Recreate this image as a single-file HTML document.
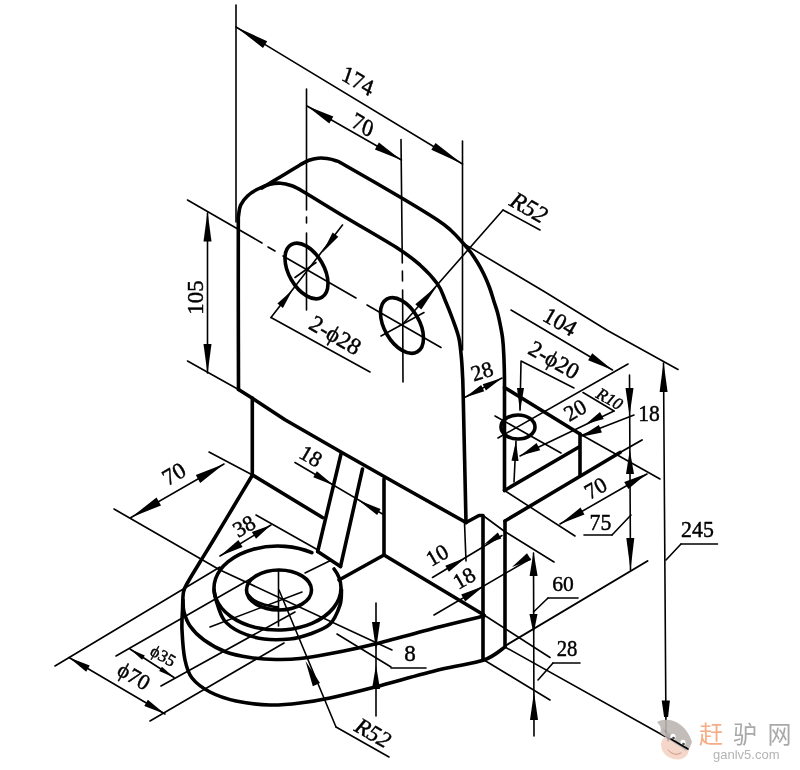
<!DOCTYPE html>
<html><head><meta charset="utf-8"><title>drawing</title>
<style>
html,body{margin:0;padding:0;background:#fff;}
body{width:800px;height:770px;overflow:hidden;}
svg{display:block;will-change:transform;transform:translateZ(0)}
svg text{font-family:"Liberation Serif","Noto Serif CJK SC",serif;fill:#000;stroke:#000;stroke-width:0.45px}
</style></head><body>
<svg width="800" height="770" viewBox="0 0 800 770" stroke="#000" stroke-linecap="round" stroke-linejoin="round">
<rect x="0" y="0" width="800" height="770" fill="#fff" stroke="none"/>
<path d="M238.5,389.5 C238.5,374.6 238.3,327.4 238.3,300 C238.3,272.6 238.2,239.1 238.3,225 C238.4,210.9 238.2,218.8 238.6,215.5 C239.0,212.2 239.2,208.2 240.7,205 C242.2,201.8 244.6,198.7 247.5,196 C250.4,193.3 254.2,190.9 258,189 C261.8,187.1 266.2,185.3 270,184.3 C273.8,183.3 277.0,183.0 280.5,183.2 C284.0,183.4 287.2,184.1 291,185.5 C294.8,186.9 294.0,186.2 303,191.5 C312.0,196.8 329.2,207.5 345,217 C360.8,226.5 385.5,240.5 398,248.5 C410.5,256.5 413.4,259.1 420,265 C426.6,270.9 433.3,278.2 437.5,284 C441.7,289.8 442.5,294.2 445,300 C447.5,305.8 450.2,312.5 452.5,318.75 C454.8,325.0 457.3,331.3 458.75,337.5 C460.2,343.7 460.6,349.8 461.25,356 C461.9,362.2 462.2,368.3 462.5,375 C462.8,381.7 462.6,371.4 463.2,396 C463.8,420.6 465.5,501.4 466,522.5" stroke-width="3.6" fill="none" />
<path d="M262,188 C264.2,186.7 270.7,182.7 275,180.1 C279.3,177.5 283.8,174.7 288,172.2 C292.2,169.7 296.5,167.0 300,165 C303.5,163.0 306.0,161.4 309,160.3 C312.0,159.2 315.0,158.5 318,158.2 C321.0,157.9 324.0,158.1 327,158.5 C330.0,158.9 333.0,159.6 336,160.7 C339.0,161.8 334.3,159.1 345,165.2 C355.7,171.2 384.6,187.9 400,197 C415.4,206.1 429.0,214.4 437.5,220 C446.0,225.6 446.8,226.8 451,230.5 C455.2,234.2 459.2,238.9 462.5,242.5 C465.8,246.1 468.0,248.7 470.5,252 C473.0,255.3 475.2,258.8 477.5,262.5 C479.8,266.2 482.0,270.3 484,274.5 C486.0,278.7 487.9,283.2 489.5,287.5 C491.1,291.8 492.2,295.8 493.5,300 C494.8,304.2 496.4,308.3 497.5,312.5 C498.6,316.7 499.5,320.8 500.3,325 C501.1,329.2 501.9,332.5 502.5,337.5 C503.1,342.5 503.5,347.9 503.8,355 C504.1,362.1 504.4,367.5 504.5,380 C504.6,392.5 504.5,411.6 504.5,430 C504.5,448.4 504.5,480.4 504.5,490.5" stroke-width="3.6" fill="none" />
<path d="M238.5,389.5 L252,398 L285,419.7 L341,452 L400,485.5 L466,522.5" stroke-width="3.6" fill="none" />
<path d="M466,522.5 L479,515.5 L483,515.5 L483,660" stroke-width="3.6" fill="none" />
<line x1="252.3" y1="398" x2="252.3" y2="475" stroke-width="3.6" />
<ellipse cx="306.5" cy="271" rx="30.5" ry="17.5" transform="rotate(60 306.5 271)" stroke-width="3.6" fill="none"/>
<ellipse cx="402" cy="325.5" rx="30.5" ry="17.5" transform="rotate(60 402 325.5)" stroke-width="3.6" fill="none"/>
<line x1="306.5" y1="89" x2="306.5" y2="210" stroke-width="1.6" />
<line x1="306.5" y1="217" x2="306.5" y2="223" stroke-width="1.6" />
<line x1="306.5" y1="233" x2="306.5" y2="310" stroke-width="1.6" />
<line x1="401" y1="139.5" x2="402.3" y2="263" stroke-width="1.6" />
<line x1="402.4" y1="271" x2="402.5" y2="281" stroke-width="1.6" />
<line x1="402.6" y1="290" x2="403" y2="382" stroke-width="1.6" />
<line x1="187.5" y1="200" x2="262" y2="243" stroke-width="1.6" />
<line x1="268" y1="247" x2="275" y2="251" stroke-width="1.6" />
<line x1="283" y1="256" x2="356" y2="298" stroke-width="1.6" />
<line x1="367" y1="305" x2="441" y2="347.5" stroke-width="1.6" />
<line x1="295" y1="277.5" x2="316" y2="262.5" stroke-width="1.6" />
<line x1="381" y1="336" x2="424" y2="312.5" stroke-width="1.6" />
<line x1="187.5" y1="361" x2="238.5" y2="389.5" stroke-width="1.6" />
<line x1="207.5" y1="213" x2="207.5" y2="373" stroke-width="1.6" />
<polygon points="207.5,211.5 211.5,241.5 203.5,241.5" fill="#000" stroke="none"/>
<polygon points="207.5,374.0 203.5,344.0 211.5,344.0" fill="#000" stroke="none"/>
<text transform="translate(195,297.5) rotate(-90)" font-size="23" text-anchor="middle" dominant-baseline="central" >105</text>
<line x1="236" y1="5" x2="236" y2="222" stroke-width="1.6" />
<line x1="462.5" y1="141" x2="462.5" y2="350" stroke-width="1.6" />
<line x1="236" y1="27" x2="462.5" y2="164" stroke-width="1.6" />
<polygon points="236.0,27.0 267.2,41.2 263.0,48.0" fill="#000" stroke="none"/>
<polygon points="462.5,164.0 431.3,149.8 435.5,143.0" fill="#000" stroke="none"/>
<text transform="translate(358,80.5) rotate(31) skewX(12)" font-size="23" text-anchor="middle" dominant-baseline="central" >174</text>
<line x1="307" y1="106" x2="401.5" y2="160" stroke-width="1.6" />
<polygon points="307.0,106.0 333.3,116.4 329.3,123.4" fill="#000" stroke="none"/>
<polygon points="401.2,160.0 374.9,149.5 378.9,142.6" fill="#000" stroke="none"/>
<text transform="translate(363,124.5) rotate(31) skewX(12)" font-size="23" text-anchor="middle" dominant-baseline="central" >70</text>
<line x1="503" y1="210" x2="402" y2="325" stroke-width="1.6" />
<line x1="503" y1="210" x2="540" y2="230" stroke-width="1.6" />
<polygon points="437.0,286.0 421.3,309.5 415.3,304.2" fill="#000" stroke="none"/>
<text transform="translate(529,207.5) rotate(30)" font-size="24" text-anchor="middle" dominant-baseline="central" font-style="italic">R52</text>
<path d="M462.5,243 L545,292 L607.5,330.5 L678,369.5" stroke-width="1.6" fill="none" />
<line x1="271" y1="317.5" x2="342.5" y2="225" stroke-width="1.6" />
<polygon points="322.5,252.5 332.6,232.6 338.3,236.8" fill="#000" stroke="none"/>
<polygon points="292.5,290.0 282.9,307.9 277.4,303.6" fill="#000" stroke="none"/>
<line x1="271" y1="317.5" x2="370" y2="372" stroke-width="1.6" />
<text transform="translate(335.5,335) rotate(30)" font-size="23.5" text-anchor="middle" dominant-baseline="central" >2-ϕ28</text>
<line x1="464.5" y1="397.5" x2="502" y2="378" stroke-width="1.6" />
<polygon points="465.0,397.5 481.1,385.1 484.3,391.3" fill="#000" stroke="none"/>
<polygon points="502.0,378.0 485.9,390.4 482.7,384.2" fill="#000" stroke="none"/>
<text transform="translate(482,371) rotate(-18)" font-size="22" text-anchor="middle" dominant-baseline="central" >28</text>
<line x1="504.5" y1="387.5" x2="580" y2="434" stroke-width="3.6" />
<line x1="580" y1="434" x2="580" y2="475" stroke-width="3.6" />
<line x1="504.5" y1="490.5" x2="579" y2="447" stroke-width="3.6" />
<line x1="505" y1="521" x2="620" y2="452.5" stroke-width="3.6" />
<line x1="620" y1="452.5" x2="642" y2="440" stroke-width="2.0" />
<line x1="505" y1="521" x2="505" y2="646" stroke-width="3.6" />
<line x1="580" y1="434" x2="660" y2="479" stroke-width="1.6" />
<line x1="504.5" y1="490.5" x2="575" y2="536" stroke-width="1.6" />
<ellipse cx="518" cy="427" rx="17" ry="12" transform="rotate(0 518 427)" stroke-width="3.6" fill="none"/>
<line x1="498" y1="438" x2="628" y2="364" stroke-width="1.6" />
<line x1="495" y1="416" x2="561" y2="453" stroke-width="1.6" />
<line x1="521" y1="362" x2="520" y2="410" stroke-width="1.6" />
<polygon points="520.0,412.0 517.0,387.9 524.0,388.1" fill="#000" stroke="none"/>
<line x1="516" y1="441" x2="514" y2="482" stroke-width="1.6" />
<polygon points="516.0,441.0 518.5,461.1 511.5,460.8" fill="#000" stroke="none"/>
<line x1="521" y1="361" x2="574" y2="388" stroke-width="1.6" />
<text transform="translate(554,360) rotate(30)" font-size="23" text-anchor="middle" dominant-baseline="central" >2-ϕ20</text>
<line x1="511" y1="310" x2="612.5" y2="370" stroke-width="1.6" />
<polygon points="612.5,370.0 588.1,360.2 592.2,353.3" fill="#000" stroke="none"/>
<text transform="translate(560,322) rotate(30)" font-size="23" text-anchor="middle" dominant-baseline="central" >104</text>
<line x1="520" y1="456" x2="614" y2="411" stroke-width="1.6" />
<polygon points="520.5,455.5 536.6,443.0 540.2,450.2" fill="#000" stroke="none"/>
<polygon points="586.0,424.0 600.0,411.9 603.7,419.0" fill="#000" stroke="none"/>
<line x1="583" y1="392.5" x2="614" y2="411" stroke-width="1.6" />
<text transform="translate(575,410) rotate(-30)" font-size="22" text-anchor="middle" dominant-baseline="central" >20</text>
<text transform="translate(609.5,399) rotate(30)" font-size="17" text-anchor="middle" dominant-baseline="central" font-style="italic">R10</text>
<line x1="580" y1="436" x2="634" y2="415" stroke-width="1.6" />
<polygon points="580.0,437.0 598.9,425.0 601.9,432.4" fill="#000" stroke="none"/>
<line x1="629.5" y1="375" x2="630.5" y2="570" stroke-width="1.6" />
<polygon points="629.5,416.0 625.5,388.0 633.5,388.0" fill="#000" stroke="none"/>
<polygon points="629.8,450.0 634.0,474.0 626.0,474.0" fill="#000" stroke="none"/>
<text transform="translate(649,413) rotate(0) scale(0.9,1)" font-size="24" text-anchor="middle" dominant-baseline="central" >18</text>
<line x1="560" y1="524" x2="647" y2="474" stroke-width="1.6" />
<polygon points="560.0,524.0 580.5,507.6 584.5,514.5" fill="#000" stroke="none"/>
<polygon points="647.0,473.5 628.3,489.0 624.2,482.1" fill="#000" stroke="none"/>
<text transform="translate(595.5,488) rotate(-30)" font-size="22" text-anchor="middle" dominant-baseline="central" >70</text>
<polygon points="630.5,570.0 626.3,538.0 634.3,538.0" fill="#000" stroke="none"/>
<line x1="584" y1="535" x2="612" y2="535" stroke-width="1.6" />
<line x1="612" y1="535" x2="631" y2="515" stroke-width="1.6" />
<text transform="translate(600.5,522.5) rotate(0) scale(0.95,1)" font-size="23" text-anchor="middle" dominant-baseline="central" >75</text>
<line x1="505" y1="646" x2="647.5" y2="561" stroke-width="2.0" />
<line x1="663.5" y1="363" x2="666" y2="732" stroke-width="1.6" />
<polygon points="663.5,362.0 667.6,392.0 659.6,392.0" fill="#000" stroke="none"/>
<polygon points="661.7,700.5 669.9,700.5 668.1,717 664.1,717" fill="#000" stroke="none"/>
<line x1="681" y1="544" x2="717.5" y2="544" stroke-width="1.6" />
<line x1="681" y1="544" x2="666" y2="560" stroke-width="1.6" />
<text transform="translate(697.5,529) rotate(0) scale(0.95,1)" font-size="23" text-anchor="middle" dominant-baseline="central" >245</text>
<line x1="533.5" y1="553" x2="534" y2="736" stroke-width="1.6" />
<polygon points="533.5,552.0 537.6,576.0 529.6,576.0" fill="#000" stroke="none"/>
<polygon points="533.5,634.0 529.5,614.0 537.5,614.0" fill="#000" stroke="none"/>
<polygon points="534.0,692.0 538.0,720.0 530.0,720.0" fill="#000" stroke="none"/>
<line x1="548" y1="598" x2="578" y2="598" stroke-width="1.6" />
<line x1="548" y1="598" x2="533.5" y2="612" stroke-width="1.6" />
<text transform="translate(563,584) rotate(0) scale(0.98,1)" font-size="22" text-anchor="middle" dominant-baseline="central" >60</text>
<line x1="483" y1="515.5" x2="504" y2="531" stroke-width="1.6" />
<line x1="504" y1="531" x2="554" y2="562" stroke-width="1.6" />
<text transform="translate(567,649) rotate(0) scale(0.9,1)" font-size="23" text-anchor="middle" dominant-baseline="central" >28</text>
<line x1="553" y1="663" x2="580" y2="663" stroke-width="1.6" />
<line x1="553" y1="663" x2="538" y2="680" stroke-width="1.6" />
<line x1="484" y1="615" x2="550" y2="657.5" stroke-width="1.6" />
<line x1="484" y1="660" x2="550" y2="700" stroke-width="1.6" />
<line x1="505" y1="647" x2="687.5" y2="749" stroke-width="1.6" />
<line x1="464.5" y1="522.5" x2="466" y2="561" stroke-width="1.6" />
<line x1="432.5" y1="577.5" x2="502" y2="535.5" stroke-width="1.6" />
<polygon points="466.0,557.5 448.9,571.8 445.3,565.8" fill="#000" stroke="none"/>
<polygon points="484.0,544.5 497.8,532.4 501.3,538.5" fill="#000" stroke="none"/>
<text transform="translate(437,555) rotate(-30)" font-size="22" text-anchor="middle" dominant-baseline="central" >10</text>
<line x1="434" y1="615" x2="530" y2="559" stroke-width="1.6" />
<polygon points="484.0,586.0 465.2,601.5 461.2,594.6" fill="#000" stroke="none"/>
<polygon points="512.0,567.0 527.0,553.2 531.2,560.0" fill="#000" stroke="none"/>
<text transform="translate(464,578) rotate(-30)" font-size="22" text-anchor="middle" dominant-baseline="central" >18</text>
<line x1="341" y1="454" x2="317.7" y2="551.5" stroke-width="3.6" />
<line x1="317.7" y1="551.5" x2="340.5" y2="566.5" stroke-width="3.6" />
<line x1="305" y1="573" x2="330.5" y2="560.5" stroke-width="1.6" />
<line x1="362.5" y1="469" x2="340.5" y2="566.5" stroke-width="3.6" />
<line x1="384" y1="479" x2="384" y2="555" stroke-width="3.6" />
<line x1="384" y1="555" x2="339" y2="580" stroke-width="3.6" />
<line x1="384" y1="555" x2="484" y2="615" stroke-width="3.6" />
<line x1="252.5" y1="475" x2="322.5" y2="517.5" stroke-width="3.6" />
<text transform="translate(311,456) rotate(30)" font-size="22" text-anchor="middle" dominant-baseline="central" >18</text>
<line x1="295" y1="462.5" x2="382.5" y2="514" stroke-width="1.6" />
<polygon points="334.0,485.5 313.3,477.3 316.8,471.3" fill="#000" stroke="none"/>
<polygon points="358.0,500.0 380.6,508.9 377.1,514.9" fill="#000" stroke="none"/>
<path d="M252.5,475 C249.2,480.4 239.5,496.7 233,507.5 C226.5,518.3 219.0,530.9 213.5,540 C208.0,549.1 204.2,555.0 200,562 C195.8,569.0 190.8,577.0 188,582 C185.2,587.0 184.4,587.3 183.5,592 C182.6,596.7 182.8,603.7 182.5,610 C182.2,616.3 181.6,621.7 182,630 C182.4,638.3 183.3,652.0 185,660 C186.7,668.0 187.8,672.7 192,678 C196.2,683.3 202.7,688.2 210,692 C217.3,695.8 226.0,698.8 236,701 C246.0,703.2 259.3,704.7 270,705 C280.7,705.3 290.0,704.2 300,703 C310.0,701.8 317.5,700.7 330,698 C342.5,695.3 356.7,691.8 375,687 C393.3,682.2 421.8,674.0 440,669.5 C458.2,665.0 473.2,663.8 484,660 C494.8,656.2 501.5,649.2 505,647" stroke-width="3.6" fill="none" />
<path d="M183,600 C183.2,602.0 182.8,607.7 184,612 C185.2,616.3 186.7,621.3 190,626 C193.3,630.7 198.0,635.7 204,640 C210.0,644.3 218.3,649.1 226,652 C233.7,654.9 241.7,656.2 250,657.5 C258.3,658.8 267.7,659.3 276,659.5 C284.3,659.7 289.3,659.8 300,658.5 C310.7,657.2 327.5,654.2 340,651.75 C352.5,649.3 358.3,648.2 375,644 C391.7,639.8 421.8,631.4 440,626.75 C458.2,622.1 476.7,617.8 484,616" stroke-width="3.6" fill="none" />
<path d="M334.1,569.0 A63.5,42 0 1 1 311.8,552.7" stroke-width="3.6" fill="none" />
<path d="M214,590 C214.3,591.7 214.3,595.0 216,600 C217.7,605.0 220.0,614.7 224,620 C228.0,625.3 233.3,628.8 240,632 C246.7,635.2 255.7,637.8 264,639 C272.3,640.2 282.3,639.8 290,639 C297.7,638.2 303.3,636.5 310,634 C316.7,631.5 325.0,628.8 330,624 C335.0,619.2 338.1,610.7 340,605 C341.9,599.3 341.2,592.5 341.5,590" stroke-width="3.6" fill="none" />
<ellipse cx="279" cy="590" rx="32.5" ry="20" transform="rotate(0 279 590)" stroke-width="3.6" fill="none"/>
<path d="M248,594 C249.0,595.0 251.3,598.2 254,600 C256.7,601.8 260.0,603.2 264,604.5 C268.0,605.8 275.7,607.0 278,607.5" stroke-width="2.4" fill="none" />
<line x1="114" y1="509" x2="220" y2="570" stroke-width="1.6" />
<line x1="220" y1="570" x2="392" y2="650" stroke-width="1.6" />
<line x1="337" y1="634" x2="391" y2="667" stroke-width="1.6" />
<line x1="256" y1="515" x2="318" y2="550" stroke-width="1.6" />
<line x1="278.5" y1="570" x2="278.5" y2="626" stroke-width="1.6" />
<line x1="210" y1="627" x2="302" y2="592" stroke-width="1.6" />
<line x1="209" y1="452" x2="252.5" y2="475" stroke-width="1.6" />
<line x1="131" y1="517.5" x2="224" y2="464" stroke-width="1.6" />
<polygon points="131.0,517.5 156.5,497.6 161.0,505.4" fill="#000" stroke="none"/>
<polygon points="224.0,464.0 200.2,482.9 195.8,475.1" fill="#000" stroke="none"/>
<text transform="translate(174,474) rotate(-30)" font-size="23" text-anchor="middle" dominant-baseline="central" >70</text>
<line x1="220" y1="556" x2="271" y2="525" stroke-width="1.6" />
<polygon points="220.0,556.0 238.4,540.1 242.6,547.0" fill="#000" stroke="none"/>
<polygon points="271.0,525.0 256.0,538.8 251.8,532.0" fill="#000" stroke="none"/>
<text transform="translate(244,526) rotate(-30)" font-size="22" text-anchor="middle" dominant-baseline="central" >38</text>
<line x1="55" y1="666" x2="220" y2="567" stroke-width="1.6" />
<line x1="116" y1="656" x2="252" y2="578" stroke-width="1.6" />
<line x1="161" y1="686" x2="295" y2="612" stroke-width="1.6" />
<line x1="150" y1="721" x2="284" y2="643" stroke-width="1.6" />
<line x1="69" y1="657.5" x2="165" y2="714" stroke-width="1.6" />
<polygon points="69.0,657.5 89.7,665.6 86.2,671.7" fill="#000" stroke="none"/>
<polygon points="165.0,714.0 144.3,705.9 147.8,699.8" fill="#000" stroke="none"/>
<text transform="translate(134,676) rotate(30)" font-size="22" text-anchor="middle" dominant-baseline="central" >ϕ70</text>
<line x1="130" y1="649" x2="174" y2="677.5" stroke-width="1.6" />
<polygon points="130.0,649.0 144.8,655.6 142.1,659.8" fill="#000" stroke="none"/>
<polygon points="174.0,677.5 159.2,670.9 161.9,666.7" fill="#000" stroke="none"/>
<text transform="translate(163,656) rotate(30)" font-size="17" text-anchor="middle" dominant-baseline="central" >ϕ35</text>
<line x1="376" y1="603" x2="376" y2="716" stroke-width="1.6" />
<polygon points="376.0,650.0 372.0,622.0 380.0,622.0" fill="#000" stroke="none"/>
<polygon points="376.0,665.0 380.0,689.0 372.0,689.0" fill="#000" stroke="none"/>
<text transform="translate(410,653) rotate(0)" font-size="23" text-anchor="middle" dominant-baseline="central" >8</text>
<line x1="391" y1="668" x2="426" y2="668" stroke-width="1.6" />
<line x1="279" y1="590" x2="336" y2="727" stroke-width="1.6" />
<polygon points="305.5,661.0 320.0,682.9 312.8,686.3" fill="#000" stroke="none"/>
<line x1="336" y1="727" x2="389" y2="757" stroke-width="1.6" />
<text transform="translate(373,733) rotate(30)" font-size="23" text-anchor="middle" dominant-baseline="central" font-style="italic">R52</text>
<g stroke="none" opacity="0.9"><ellipse cx="675" cy="747" rx="14.5" ry="12" fill="#f3d3c4" transform="rotate(28 675 747)"/><path d="M657,722 C668,716 686,722 692,742 C690,748 688,750 686,751 L660,733 C662,728 660,725 657,722 Z" fill="#bdb6b3"/><path d="M663,728 L668,742 L672,736 Z" fill="#a9a3a0"/><ellipse cx="673" cy="737" rx="2.6" ry="3.2" fill="#fff"/><ellipse cx="683" cy="743" rx="2.6" ry="3.2" fill="#fff"/><circle cx="673.5" cy="738" r="1.3" fill="#333"/><circle cx="683.5" cy="744" r="1.3" fill="#333"/><path d="M668,750 Q674,757 681,753" fill="none" stroke="#c98f7c" stroke-width="1"/></g>
<line x1="671" y1="739" x2="688" y2="749" stroke-width="1.6" />
<text y="743" font-size="24" style="font-family:'Liberation Sans','Noto Sans CJK SC',sans-serif;fill:#a9a9a9;stroke:none"><tspan x="699" style="fill:#f6ad85">赶</tspan><tspan x="733">驴</tspan><tspan x="767.5">网</tspan></text>
<text x="713" y="758.5" font-size="13" style="font-family:'Liberation Sans',sans-serif;fill:#b4b4b4;stroke:none">ganlv5.com</text>
</svg>
</body></html>
